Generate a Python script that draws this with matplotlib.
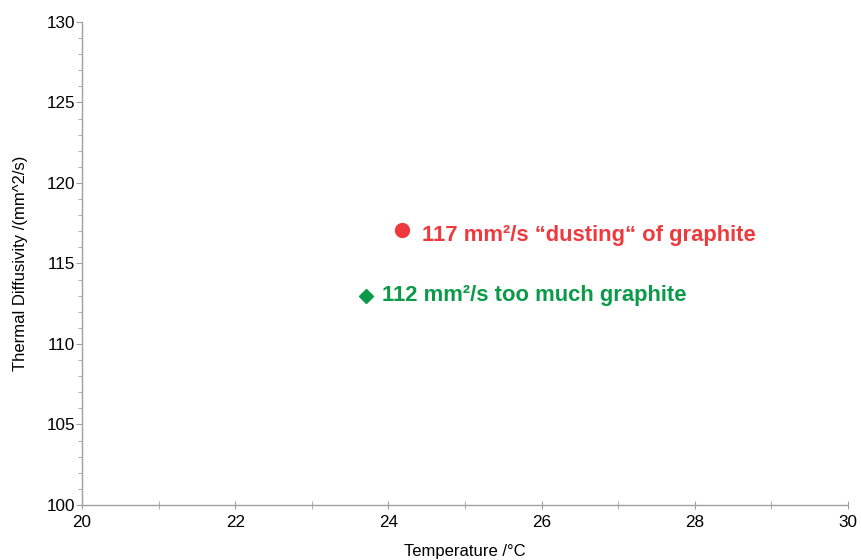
import matplotlib
matplotlib.use("Agg")
import matplotlib.pyplot as plt
from matplotlib.ticker import MultipleLocator

plt.rcParams['font.family'] = ['Liberation Sans', 'DejaVu Sans']

# data
red_x = [24.18]
red_y = [117.1]
red_label = "117 mm²/s “dusting“ of graphite"
green_x = [23.71]
green_y = [113.0]
green_label = "112 mm²/s too much graphite"
xlim = (20, 30)
ylim = (100, 130)

fig = plt.figure(figsize=(8.61, 5.60), dpi=100)
ax = fig.add_axes([82/861, 55/560, (848-82)/861, (505-22)/560])

red = '#EE3A3E'
green = '#0A9A48'
ax.plot(red_x, red_y, 'o', color=red, markersize=10, clip_on=False)
ax.plot(green_x, green_y, 'D', color=green, markersize=7, clip_on=False)
ax.annotate(red_label, (red_x[0], red_y[0]), xytext=(14.5, -4), textcoords='offset points',
            color=red, fontsize=15.8, va='center', ha='left', fontweight='bold')
ax.annotate(green_label, (green_x[0], green_y[0]), xytext=(11.5, 0), textcoords='offset points',
            color=green, fontsize=15.8, va='center', ha='left', fontweight='bold')

ax.set_xlim(*xlim)
ax.set_ylim(*ylim)
ax.xaxis.set_major_locator(MultipleLocator(2))
ax.xaxis.set_minor_locator(MultipleLocator(1))
ax.yaxis.set_major_locator(MultipleLocator(5))
ax.yaxis.set_minor_locator(MultipleLocator(1))

for s in ['top', 'right']:
    ax.spines[s].set_visible(False)
for s in ['left', 'bottom']:
    ax.spines[s].set_color('#a0a0a0')
    ax.spines[s].set_linewidth(1.0)

ax.tick_params(axis='both', which='both', colors='#a0a0a0', labelcolor='black', labelsize=12.3)
ax.tick_params(axis='y', which='major', direction='out', length=4, pad=1)
ax.tick_params(axis='y', which='minor', direction='out', length=3)
ax.tick_params(axis='x', which='major', direction='inout', length=6, pad=4)
ax.tick_params(axis='x', which='minor', direction='inout', length=6)

ax.set_xlabel('Temperature /°C', fontsize=12, labelpad=10)
ax.set_ylabel('Thermal Diffusivity /(mm^2/s)', fontsize=12, labelpad=13)

fig.savefig('out.png', dpi=100)
